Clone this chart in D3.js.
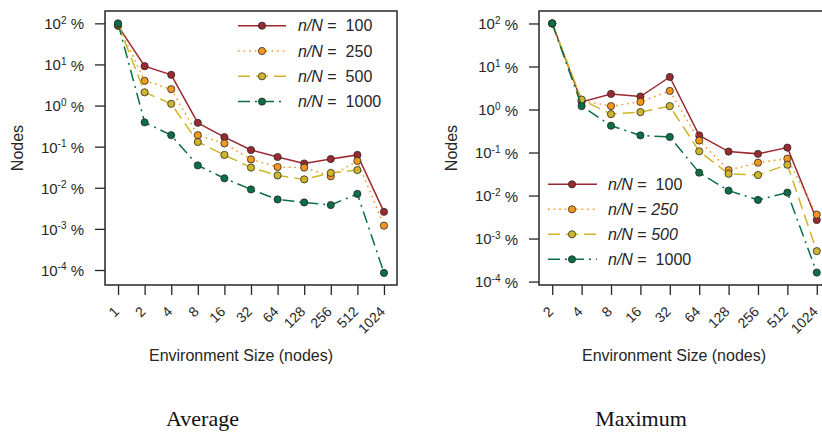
<!DOCTYPE html>
<html>
<head>
<meta charset="utf-8">
<script src="https://cdn.jsdelivr.net/npm/d3@7"></script>
<style>
  body { margin: 0; background: #fff; }
  svg { display: block; font-family: "Liberation Sans", Arial, sans-serif; }
</style>
</head>
<body>
<script>
// Environment sizes on the x axis
const avgSizes = ["1", "2", "4", "8", "16", "32", "64", "128", "256", "512", "1024"];
const maxSizes = ["2", "4", "8", "16", "32", "64", "128", "256", "512", "1024"];

// Average panel (% of nodes)
const avg100  = [87, 9.1, 5.6, 0.38, 0.17, 0.083, 0.056, 0.039, 0.050, 0.063, 0.0026];
const avg250  = [92, 4.0, 2.5, 0.19, 0.12, 0.049, 0.032, 0.031, 0.019, 0.045, 0.0012];
const avg500  = [95, 2.1, 1.1, 0.13, 0.063, 0.031, 0.020, 0.016, 0.023, 0.027, null];
const avg1000 = [100, 0.39, 0.19, 0.035, 0.017, 0.0091, 0.0052, 0.0044, 0.0038, 0.0071, 0.000085];

// Maximum panel (% of nodes)
const max100  = [100, 1.5, 2.3, 2.0, 5.7, 0.25, 0.105, 0.093, 0.13, 0.0027];
const max250  = [100, 1.6, 1.2, 1.5, 2.7, 0.19, 0.039, 0.058, 0.072, 0.0036];
const max500  = [100, 1.7, 0.78, 0.87, 1.2, 0.107, 0.032, 0.030, 0.052, 0.00051];
const max1000 = [100, 1.2, 0.42, 0.25, 0.23, 0.034, 0.013, 0.0079, 0.0117, 0.000162];

const yExponents = [2, 1, 0, -1, -2, -3, -4];

// series styling
const seriesStyle = [
  { n: "100",  color: "#9b2a30", dash: null },
  { n: "250",  color: "#f5961f", dash: "1.6,4" },
  { n: "500",  color: "#cfb52a", dash: "12,6" },
  { n: "1000", color: "#0b6e45", dash: "12,5,2,5" }
];

const W = 822, H = 433;
const ink = "#262626";

const svg = d3.select("body").append("svg")
  .attr("width", W)
  .attr("height", H);

function drawPanel(p) {
  const x = d3.scalePoint()
    .domain(p.sizes)
    .range([p.box.x0, p.box.x1])
    .padding(p.pad);

  const y = d3.scaleLog()
    .domain(p.yDomain)
    .range([p.box.y1, p.box.y0]);

  const g = svg.append("g");

  // y axis
  const yAxis = g.append("g")
    .attr("transform", `translate(${p.box.x0},0)`)
    .call(d3.axisLeft(y)
      .tickValues(yExponents.map(e => Math.pow(10, e)))
      .tickSize(10)
      .tickPadding(11)
      .tickFormat(""));
  yAxis.select(".domain").remove();
  yAxis.selectAll(".tick line").attr("stroke", ink).attr("stroke-width", 1.3);
  yAxis.selectAll(".tick text").each(function (d) {
    const t = d3.select(this)
      .attr("fill", ink)
      .attr("font-size", 15)
      .attr("dy", "0.36em")
      .style("white-space", "pre");
    const e = Math.round(Math.log10(d));
    t.append("tspan").text("10");
    t.append("tspan").attr("font-size", 10).attr("dy", "-0.55em").text(e < 0 ? "-" + (-e) : e);
    t.append("tspan").attr("dy", "0.38em").text(" %");
  });

  // x axis
  const xAxis = g.append("g")
    .attr("transform", `translate(0,${p.box.y1})`)
    .call(d3.axisBottom(x).tickSize(10).tickFormat(""));
  xAxis.select(".domain").remove();
  xAxis.selectAll(".tick line").attr("stroke", ink).attr("stroke-width", 1.3);

  g.selectAll(".xlab")
    .data(p.sizes)
    .join("text")
    .attr("class", "xlab")
    .attr("transform", d => `translate(${x(d) - 1.5},${p.box.y1 + 24}) rotate(-45)`)
    .attr("text-anchor", "end")
    .attr("dy", "0.35em")
    .attr("font-size", 14)
    .attr("fill", ink)
    .text(d => d);

  // series
  p.series.forEach((vals, i) => {
    const s = seriesStyle[i];
    const pts = p.sizes.map((k, j) => ({ k, v: vals[j] })).filter(d => d.v != null);
    const line = d3.line().x(d => x(d.k)).y(d => y(d.v));
    g.append("path")
      .datum(pts)
      .attr("d", line)
      .attr("fill", "none")
      .attr("stroke", s.color)
      .attr("stroke-width", 1.5)
      .attr("stroke-dasharray", s.dash);
    g.selectAll(".m" + i)
      .data(pts)
      .join("circle")
      .attr("class", "m" + i)
      .attr("cx", d => x(d.k))
      .attr("cy", d => y(d.v))
      .attr("r", 3.6)
      .attr("fill", s.color)
      .attr("stroke", "#2a2a2a")
      .attr("stroke-width", 0.8);
  });

  // frame
  g.append("rect")
    .attr("x", p.box.x0)
    .attr("y", p.box.y0)
    .attr("width", p.box.x1 - p.box.x0)
    .attr("height", p.box.y1 - p.box.y0)
    .attr("fill", "none")
    .attr("stroke", ink)
    .attr("stroke-width", 1.5);

  // legend
  const lg = p.legend;
  seriesStyle.forEach((s, i) => {
    const ly = lg.y + i * lg.dy;
    g.append("line")
      .attr("x1", lg.x0).attr("x2", lg.x1)
      .attr("y1", ly).attr("y2", ly)
      .attr("stroke", s.color)
      .attr("stroke-width", 1.5)
      .attr("stroke-dasharray", s.dash);
    g.append("circle")
      .attr("cx", lg.mx).attr("cy", ly).attr("r", 3.6)
      .attr("fill", s.color)
      .attr("stroke", "#2a2a2a")
      .attr("stroke-width", 0.8);
    const t = g.append("text")
      .attr("x", lg.tx).attr("y", ly)
      .attr("dy", "0.36em")
      .attr("font-size", 16)
      .attr("fill", ink)
      .style("white-space", "pre");
    t.append("tspan").attr("font-style", "italic").text("n/N");
    if (p.italicLegend.includes(s.n)) {
      t.append("tspan").text(" = ");
      t.append("tspan").attr("font-style", "italic").text(s.n);
    } else {
      t.append("tspan").text(" =  " + s.n);
    }
  });

  // axis titles
  g.append("text")
    .attr("transform", `translate(${p.yTitleX},${(p.box.y0 + p.box.y1) / 2}) rotate(-90)`)
    .attr("text-anchor", "middle")
    .attr("dy", "0.36em")
    .attr("font-size", 16)
    .attr("fill", ink)
    .text("Nodes");

  g.append("text")
    .attr("x", p.xTitleX)
    .attr("y", 361)
    .attr("text-anchor", "middle")
    .attr("font-size", 16)
    .attr("fill", ink)
    .text("Environment Size (nodes)");

  // caption
  g.append("text")
    .attr("x", p.captionX)
    .attr("y", 426)
    .attr("text-anchor", "middle")
    .attr("font-family", "'Liberation Serif', 'DejaVu Serif', serif")
    .attr("font-size", 22)
    .attr("fill", "#111")
    .text(p.caption);
}

drawPanel({
  sizes: avgSizes,
  series: [avg100, avg250, avg500, avg1000],
  box: { x0: 105, x1: 397, y0: 11, y1: 285 },
  pad: 0.49,
  yDomain: [Math.pow(10, -4.365), Math.pow(10, 2.3)],
  legend: { x0: 238, x1: 286, mx: 262, tx: 298, y: 25.7, dy: 25.3 },
  italicLegend: [],
  yTitleX: 17,
  xTitleX: 241,
  captionX: 202.5,
  caption: "Average"
});

drawPanel({
  sizes: maxSizes,
  series: [max100, max250, max500, max1000],
  box: { x0: 539, x1: 830, y0: 11, y1: 285 },
  pad: 0.45,
  yDomain: [Math.pow(10, -4.08), Math.pow(10, 2.29)],
  legend: { x0: 548, x1: 597, mx: 572, tx: 608, y: 184.3, dy: 25 },
  italicLegend: ["250", "500"],
  yTitleX: 451,
  xTitleX: 674,
  captionX: 641,
  caption: "Maximum"
});
</script>
</body>
</html>
